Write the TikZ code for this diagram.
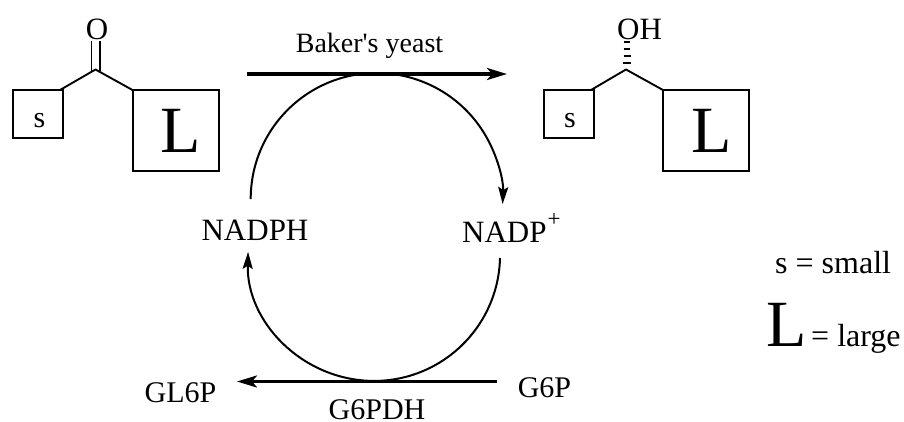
\documentclass[tikz,border=0pt]{standalone}
\usepackage{fontspec}
\setmainfont{Liberation Serif}
\usetikzlibrary{arrows.meta}
\newcommand{\fsz}[1]{\fontsize{#1}{#1}\selectfont}
\tikzset{
  bond/.style={line width=1.9pt},
  box/.style={draw,line width=2pt,inner sep=0pt,outer sep=0pt,anchor=north west},
  lab/.style={inner sep=0pt,anchor=base},
  arc line/.style={line width=2pt,-{Stealth[length=17pt,width=10pt,inset=3pt]}},
  thick arrow/.style={line width=3.2pt,-{Stealth[length=20pt,width=12pt,inset=5pt]}}
}
\begin{document}
\begin{tikzpicture}[x=1pt,y=-1pt]
\useasboundingbox (0,0) rectangle (904,421);
% left ketone
\node[box,minimum width=50.5pt,minimum height=48pt] (s1) at (12.5,90) {};
\node[box,minimum width=86pt,minimum height=81pt] (L1) at (132.5,90) {};
\node[lab,font=\fsz{30}] (s1t) at (39.5,127) {s};
\node[lab,font=\fsz{66}] (L1t) at (181,152) {L};
\node[lab,font=\fsz{31}] (O1) at (97,39) {O};
\coordinate (c1) at (95.5,69.5);
\coordinate (s1a) at (60,90);
\draw[bond,line join=round] (s1a) -- (c1) -- (L1.north west);
\draw[bond] (91.5,41) -- (91.5,71);
\draw[bond] (100,41) -- (100,71);
% right alcohol
\node[box,minimum width=50pt,minimum height=48pt] (s2) at (543.5,90) {};
\node[box,minimum width=86pt,minimum height=81pt] (L2) at (663,90) {};
\node[lab,font=\fsz{30}] (s2t) at (570,127) {s};
\node[lab,font=\fsz{66}] (L2t) at (712,152) {L};
\node[lab,font=\fsz{31}] (OH) at (639.5,39) {OH};
\coordinate (c2) at (626,69.5);
\coordinate (s2a) at (591,90);
\draw[bond,line join=round] (s2a) -- (c2) -- (L2.north west);
\foreach \yy/\w in {42/3.3,49/3.4,56/3.5,63/3.6}
  \draw[line width=2.4pt] (627-\w,\yy) -- (627+\w,\yy);
% arrows
\coordinate (t1) at (247,74);
\coordinate (t2) at (507,74);
\draw[thick arrow] (t1) -- (t2);
\node[lab,font=\fsz{28}] (by) at (369.5,52) {Baker\textquotesingle s yeast};
\node[lab,font=\fsz{31}] (nadph) at (255,240) {NADPH};
\node[lab,font=\fsz{31},anchor=base west] (nadp) at (462,242) {NADP\kern1pt\raisebox{15.5pt}{\fsz{23}+}};
\coordinate (a1) at (250.7,199);
\draw[arc line] (a1) arc[start angle=180,end angle=362.3,radius=126];
\coordinate (b1) at (500,258);
\draw[arc line] (b1) arc[start angle=1.4,end angle=181.4,radius=126];
\coordinate (g1) at (497,381.5);
\coordinate (g2) at (237,381.5);
\draw[thick arrow] (g1) -- (g2);
\node[lab,font=\fsz{30}] (gl) at (180.5,402) {GL6P};
\node[lab,font=\fsz{30}] (g6) at (544.5,397) {G6P};
\node[lab,font=\fsz{30}] (g6pdh) at (377,419.5) {G6PDH};
\node[lab,anchor=base west,font=\fsz{32}] (small) at (775,273) {s = small};
\node[lab,anchor=base west,font=\fsz{66}] (large) at (766,346) {L};
\node[lab,anchor=base west,font=\fsz{32}] (largew) at (811,346) {= large};
\end{tikzpicture}
\end{document}
